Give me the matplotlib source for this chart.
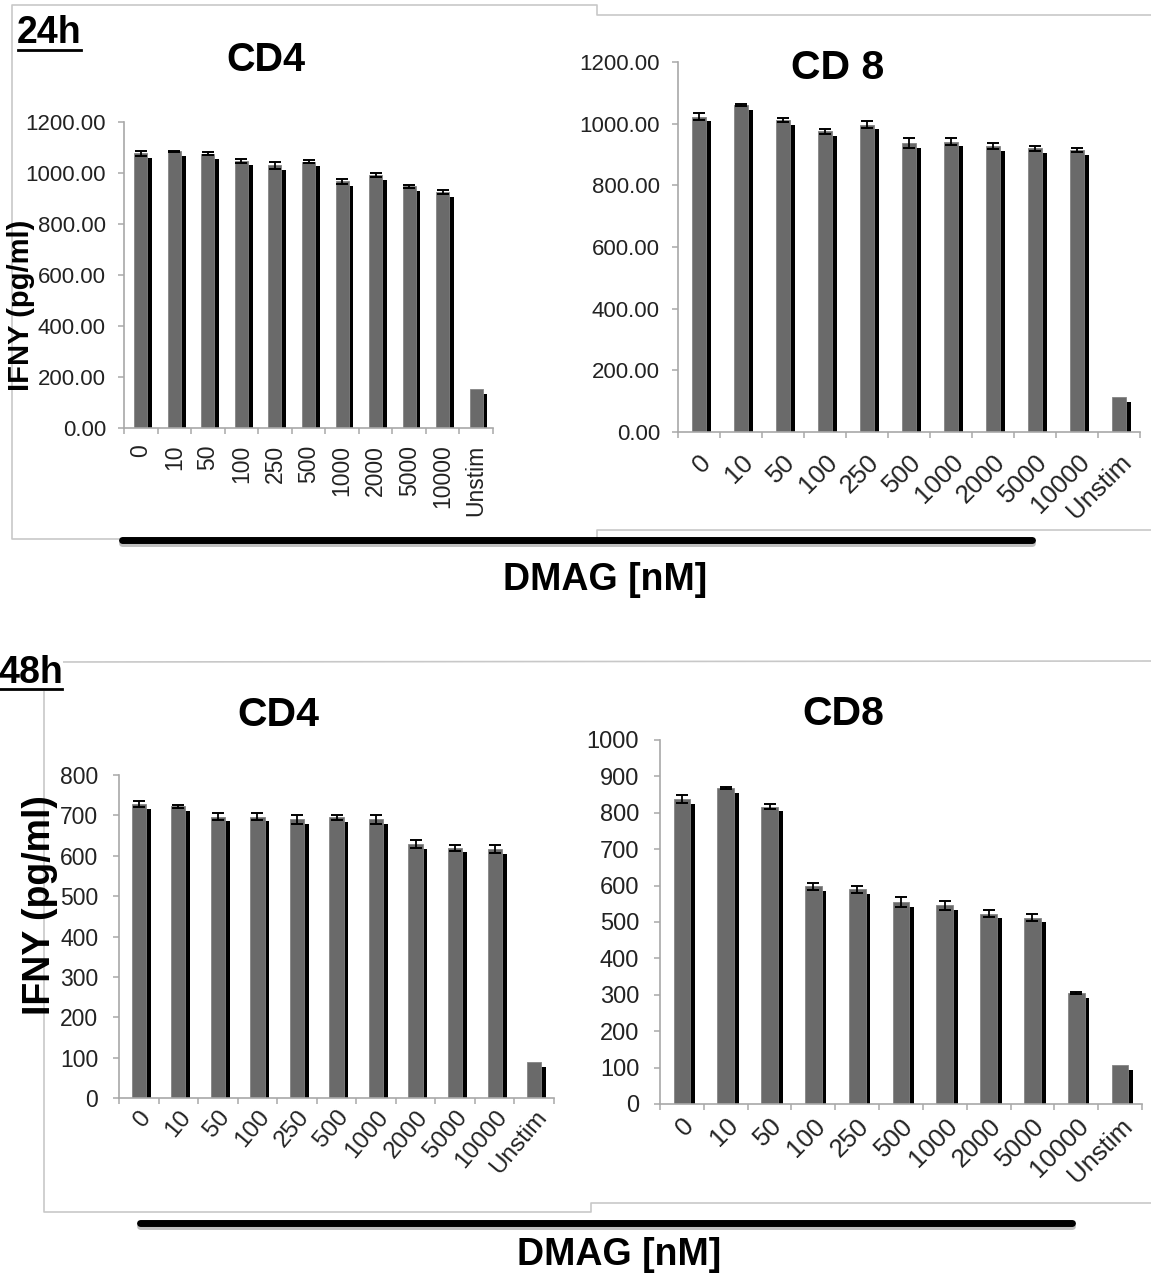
import matplotlib
matplotlib.use("Agg")
import matplotlib.pyplot as plt
import matplotlib.patheffects as pe
from matplotlib.lines import Line2D
from matplotlib.ticker import FormatStrFormatter
import numpy as np

plt.rcParams["font.family"] = ["Liberation Sans", "DejaVu Sans"]

# ---- data -------------------------------------------------------------
doses = ["0", "10", "50", "100", "250", "500", "1000", "2000", "5000", "10000", "Unstim"]

cd4_24h = [1078, 1085, 1075, 1048, 1030, 1045, 968, 992, 948, 925, 153]
cd4_24h_err = [10, 3, 6, 8, 14, 5, 10, 9, 6, 9, 0]

cd8_24h = [1023, 1060, 1012, 976, 997, 937, 942, 928, 920, 915, 112]
cd8_24h_err = [12, 3, 7, 8, 12, 17, 11, 9, 8, 7, 0]

cd4_48h = [728, 722, 697, 697, 690, 695, 690, 628, 620, 617, 88]
cd4_48h_err = [7, 4, 8, 8, 12, 6, 12, 10, 7, 9, 0]

cd8_48h = [838, 868, 817, 598, 590, 555, 546, 523, 512, 304, 107]
cd8_48h_err = [10, 2, 7, 10, 9, 13, 13, 9, 10, 3, 0]

# ---- figure -----------------------------------------------------------
W, H, DPI = 1151, 1278, 100
fig = plt.figure(figsize=(W / DPI, H / DPI), dpi=DPI)
fig.patch.set_facecolor("white")

BAR = "#6a6a6a"
SPINE = "#a8a8a8"
TXT = "#222222"
FRAME = "#c8c8c8"


def fx(x):
    return x / W


def fy(y):
    return 1 - y / H


def px_rect(x0, y0, x1, y1):
    return [fx(x0), fy(y1), (x1 - x0) / W, (y1 - y0) / H]


def outline(points):
    xs = [fx(p[0]) for p in points]
    ys = [fy(p[1]) for p in points]
    fig.add_artist(Line2D(xs, ys, color=FRAME, lw=1.2, transform=fig.transFigure,
                          zorder=0))


# light outlines around each time point's pair of charts
outline([(1160, 15), (597, 15), (597, 5), (12, 5), (12, 539), (597, 539),
         (597, 530), (1160, 530)])
outline([(1160, 661), (44, 662), (44, 1212), (591, 1212), (591, 1203), (1160, 1203)])


def panel(rect, values, errs, ymax, ystep, fmt, width, rot,
          ysize=16, ypad=9, xsize=16, xpad=10):
    ax = fig.add_axes(px_rect(*rect))
    ax.set_facecolor("none")
    x = np.arange(len(doses))
    bars = ax.bar(x, values, width=width, color=BAR, edgecolor="#858585",
                  linewidth=0.6, zorder=2)
    for b in bars:
        b.set_path_effects([
            pe.SimplePatchShadow(offset=(3.4, -3.4), shadow_rgbFace="black", alpha=1.0),
            pe.Normal(),
        ])
    idx = [i for i, e in enumerate(errs) if e > 0]
    ax.errorbar(x[idx], np.array(values)[idx], yerr=np.array(errs)[idx], fmt="none",
                ecolor="black", elinewidth=1.3, capsize=4.6, capthick=1.4, zorder=3)

    for s in ("top", "right"):
        ax.spines[s].set_visible(False)
    for s in ("left", "bottom"):
        ax.spines[s].set_color(SPINE)
        ax.spines[s].set_linewidth(1.2)

    ax.set_ylim(0, ymax)
    ax.set_yticks(np.arange(0, ymax + 1, ystep))
    ax.yaxis.set_major_formatter(FormatStrFormatter(fmt))
    ax.tick_params(axis="y", direction="out", length=4, width=1.1, color=SPINE,
                   labelsize=ysize, labelcolor=TXT, pad=ypad)

    ax.set_xlim(-0.5, len(doses) - 0.5)
    ax.set_xticks(x)
    ax.set_xticks(np.arange(-0.5, len(doses), 1.0), minor=True)
    ax.tick_params(axis="x", which="major", length=0, labelsize=xsize,
                   labelcolor=TXT, pad=xpad)
    ax.tick_params(axis="x", which="minor", direction="out", length=4.5, width=1.1,
                   color=SPINE)
    if rot == 90:
        ax.set_xticklabels(doses, rotation=90, ha="center", va="top")
    else:
        ax.set_xticklabels(doses, rotation=rot, ha="right", va="top",
                           rotation_mode="anchor")
    return ax


panel((124, 122, 493, 428), cd4_24h, cd4_24h_err, 1200, 200, "%.2f", 0.39, 90,
      ysize=16, ypad=9, xsize=16.5, xpad=12)
panel((678, 62, 1140, 432), cd8_24h, cd8_24h_err, 1200, 200, "%.2f", 0.34, 45,
      ysize=16, ypad=9, xsize=18.5, xpad=13)
panel((119, 775, 554, 1098), cd4_48h, cd4_48h_err, 800, 100, "%d", 0.36, 50,
      ysize=16.5, ypad=11, xsize=17.5, xpad=6)
panel((660, 740, 1142, 1104), cd8_48h, cd8_48h_err, 1000, 100, "%d", 0.38, 45,
      ysize=17, ypad=11, xsize=18.5, xpad=7)

# panel titles
title_kw = dict(fontweight="bold", color="black", ha="center", va="center")
fig.text(fx(266), fy(60), "CD4", fontsize=28.5, **title_kw)
fig.text(fx(838), fy(68), "CD 8", fontsize=29.5, **title_kw)
fig.text(fx(278), fy(715), "CD4", fontsize=29.5, **title_kw)
fig.text(fx(843), fy(714), "CD8", fontsize=29.5, **title_kw)

# time-point labels, underlined
tp_kw = dict(fontsize=27, fontweight="bold", color="black", ha="left", va="baseline",
             zorder=3, bbox=dict(facecolor="white", edgecolor="none", pad=0.2))
fig.text(fx(17), fy(43), "24h", **tp_kw)
fig.add_artist(Line2D([fx(18), fx(81)], [fy(50), fy(50)], color="black", lw=2.0,
                      transform=fig.transFigure, zorder=6))
fig.text(fx(-2), fy(683), "48h", **tp_kw)
fig.add_artist(Line2D([fx(0), fx(62)], [fy(689), fy(689)], color="black", lw=2.0,
                      transform=fig.transFigure, zorder=6))

# y-axis titles
fig.text(fx(21), fy(305), "IFNY (pg/ml)", rotation=90, fontsize=21, fontweight="bold",
         ha="center", va="center", color="black")
fig.text(fx(40), fy(905), "IFNY (pg/ml)", rotation=90, fontsize=27, fontweight="bold",
         ha="center", va="center", color="black")

# dose bars under each time point
for x0, x1, y in ((122, 1032, 540), (140, 1072, 1223)):
    fig.add_artist(Line2D([fx(x0), fx(x1)], [fy(y), fy(y)], color="black", lw=5,
                          solid_capstyle="round", transform=fig.transFigure, zorder=4,
                          path_effects=[pe.SimpleLineShadow(offset=(0, -2.5), alpha=0.25),
                                        pe.Normal()]))

fig.text(fx(605), fy(580), "DMAG [nM]", fontsize=27, fontweight="bold",
         ha="center", va="center", color="black")
fig.text(fx(619), fy(1255), "DMAG [nM]", fontsize=27, fontweight="bold",
         ha="center", va="center", color="black")

fig.savefig("out.png", dpi=DPI, facecolor="white")
